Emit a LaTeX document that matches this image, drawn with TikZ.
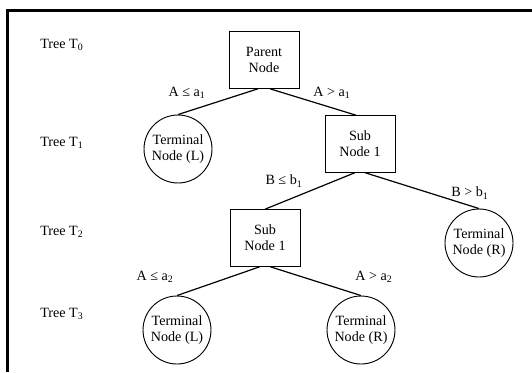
\documentclass[tikz,border=0pt]{standalone}
\usepackage{fontspec}
\setmainfont{Liberation Serif}
\begin{document}
\begin{tikzpicture}[x=0.75pt,y=-0.75pt,
  txt/.style={font=\fontsize{10.6}{12.2}\selectfont},
  box/.style={txt, draw, line width=0.7pt, minimum width=52.5pt, minimum height=42.5pt, align=center, inner sep=0pt},
  term/.style={txt, draw, circle, line width=0.7pt, minimum size=51pt, align=center, inner sep=0pt},
  lbl/.style={txt, inner sep=0pt},
  tree/.style={txt, inner sep=0pt, anchor=west},
  edge/.style={line width=0.9pt}]
\useasboundingbox (0,0) rectangle (532,372);
\draw[line width=1.8pt] (7.5,372) -- (7.5,10.5) -- (532,10.5);
% level labels
\node[tree] (t0) at (40,45) {Tree T\textsubscript{0}};
\node[tree] (t1) at (40,143) {Tree T\textsubscript{1}};
\node[tree] (t2) at (40,232) {Tree T\textsubscript{2}};
\node[tree] (t3) at (40,314) {Tree T\textsubscript{3}};
% nodes
\node[box] (parent) at (264,60) {Parent\\Node};
\node[term] (tl1) at (178,149) {Terminal\\Node (L)};
\node[box] (sub1) at (360,144) {Sub\\Node 1};
\node[box] (sub2) at (265,238) {Sub\\Node 1};
\node[term] (tr2) at (479,243) {Terminal\\Node (R)};
\node[term] (tl3) at (177,330) {Terminal\\Node (L)};
\node[term] (tr3) at (361,330) {Terminal\\Node (R)};
% edges
\draw[edge] ([xshift=-4.5pt]parent.south) -- (tl1.north);
\draw[edge] ([xshift=4.5pt]parent.south) -- ([xshift=-3pt]sub1.north);
\draw[edge] ([xshift=-4pt]sub1.south) -- (sub2.north);
\draw[edge] ([xshift=4pt]sub1.south) -- (tr2.north);
\draw[edge] ([xshift=-4pt]sub2.south) -- (tl3.north);
\draw[edge] ([xshift=4pt]sub2.south) -- (tr3.north);
% edge labels
\node[lbl] (la1) at (187,93) {A ≤ a\textsubscript{1}};
\node[lbl] (lb1) at (332,93) {A > a\textsubscript{1}};
\node[lbl] (lc1) at (284,181) {B ≤ b\textsubscript{1}};
\node[lbl] (ld1) at (470,193) {B > b\textsubscript{1}};
\node[lbl] (la2) at (155,277) {A ≤ a\textsubscript{2}};
\node[lbl] (lb2) at (374,277) {A > a\textsubscript{2}};
\end{tikzpicture}
\end{document}
